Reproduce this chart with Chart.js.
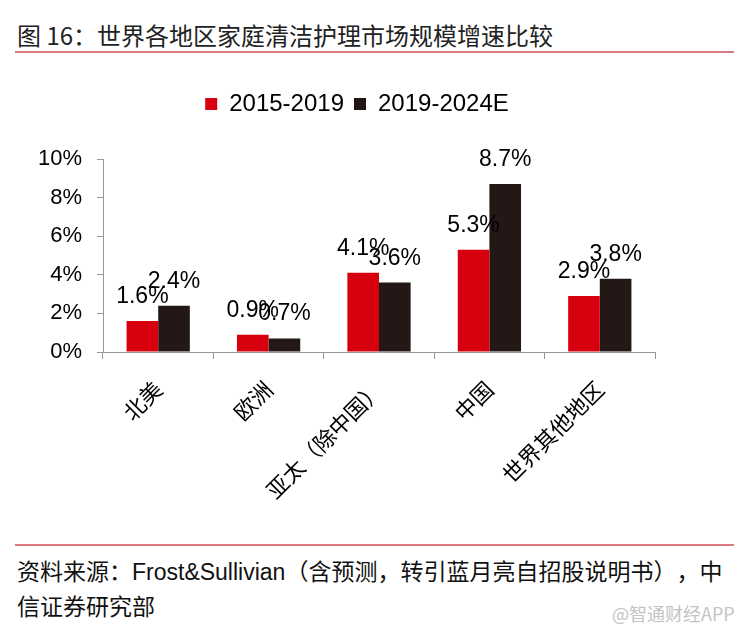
<!DOCTYPE html>
<html><head><meta charset="utf-8">
<script src="https://cdn.jsdelivr.net/npm/chart.js@4/dist/chart.umd.min.js"></script>
<style>
html,body{margin:0;padding:0;background:#fff;width:745px;height:632px;overflow:hidden;position:relative;}
*{text-spacing-trim:space-all;}
.t{position:absolute;left:17px;top:20px;font-family:"Noto Sans CJK SC";font-size:24px;line-height:30px;color:#222;white-space:nowrap;}
.rl{position:absolute;left:15px;width:719px;height:2px;background:#d97a7e;}
.f{position:absolute;left:17px;font-family:"Liberation Sans","Noto Sans CJK SC";font-size:23px;line-height:30px;color:#111;white-space:nowrap;}
.wm{position:absolute;left:612px;top:602px;font-family:"Noto Sans CJK SC";font-size:18px;line-height:22px;color:#c4c4c4;white-space:nowrap;}
#c{position:absolute;left:0;top:0;}
</style></head>
<body>
<div class="t">图 16：世界各地区家庭清洁护理市场规模增速比较</div>
<div class="rl" style="top:51px"></div>
<div style="position:absolute;left:0;top:0;width:714px;height:540px;"><canvas id="c"></canvas></div>
<div class="rl" style="top:544px"></div>
<div class="f" style="top:557px">资料来源：Frost&amp;Sullivian（含预测，转引蓝月亮自招股说明书），中</div>
<div class="f" style="top:592px">信证券研究部</div>
<div class="wm">@智通财经APP</div>
<script>
const categories = ["北美", "欧洲", "亚太（除中国）", "中国", "世界其他地区"];
const series1Name = "2015-2019";
const series2Name = "2019-2024E";
const series1 = [1.6, 0.9, 4.1, 5.3, 2.9];
const series2 = [2.4, 0.7, 3.6, 8.7, 3.8];
const yTicks = [0, 2, 4, 6, 8, 10];

const legendMargin = {
  id: 'legendMargin',
  beforeInit(chart) {
    const orig = chart.legend.fit;
    chart.legend.fit = function () { orig.bind(chart.legend)(); this.height += 33; };
  },
  afterLayout(chart) {
    const l = chart.legend;
    const dx = 357 - (l.left + l.right) / 2;
    l.left += dx; l.right += dx;
  }
};
const valueLabels = {
  id: 'valueLabels',
  afterDatasetsDraw(chart) {
    const ctx = chart.ctx;
    ctx.save();
    ctx.font = '23px "Liberation Sans"';
    ctx.fillStyle = '#000';
    ctx.textAlign = 'center';
    ctx.textBaseline = 'alphabetic';
    chart.data.datasets.forEach((ds, i) => {
      chart.getDatasetMeta(i).data.forEach((el, j) => {
        ctx.fillText(ds.data[j].toFixed(1) + '%', el.x, el.y - 18);
      });
    });
    ctx.restore();
  }
};

new Chart(document.getElementById('c'), {
  type: 'bar',
  data: {
    labels: categories,
    datasets: [
      { label: series1Name, data: series1, backgroundColor: '#D7000F', categoryPercentage: 0.573, barPercentage: 1.0 },
      { label: series2Name, data: series2, backgroundColor: '#231815', categoryPercentage: 0.573, barPercentage: 1.0 }
    ]
  },
  options: {
    responsive: true,
    maintainAspectRatio: false,
    animation: false,
    layout: { padding: { top: 82, left: 0, right: 59, bottom: 0 } },
    plugins: {
      legend: {
        display: true, position: 'top',
        labels: { boxWidth: 12, boxHeight: 12, color: '#000', padding: 10,
          font: { family: 'Liberation Sans', size: 24 } }
      },
      tooltip: { enabled: false }
    },
    scales: {
      x: {
        grid: { display: true, drawOnChartArea: false, drawTicks: true, tickLength: 7, color: '#999', offset: true },
        border: { display: true, color: '#999', width: 1 },
        ticks: { color: '#000', maxRotation: 45, minRotation: 45, autoSkip: false, padding: 17,
          font: { family: 'Noto Sans CJK SC', size: 22 } },
        afterFit(s) { s.height = 188; }
      },
      y: {
        min: 0, max: 10,
        afterBuildTicks(s) { s.ticks = yTicks.map(v => ({ value: v })); },
        grid: { display: true, drawOnChartArea: false, drawTicks: true, tickLength: 6, color: '#999' },
        border: { display: true, color: '#999', width: 1 },
        ticks: { color: '#000', padding: 15, callback: v => v + '%',
          font: { family: 'Liberation Sans', size: 22 } },
        afterFit(s) { s.width = 103; }
      }
    }
  },
  plugins: [legendMargin, valueLabels]
});
</script>
</body></html>
